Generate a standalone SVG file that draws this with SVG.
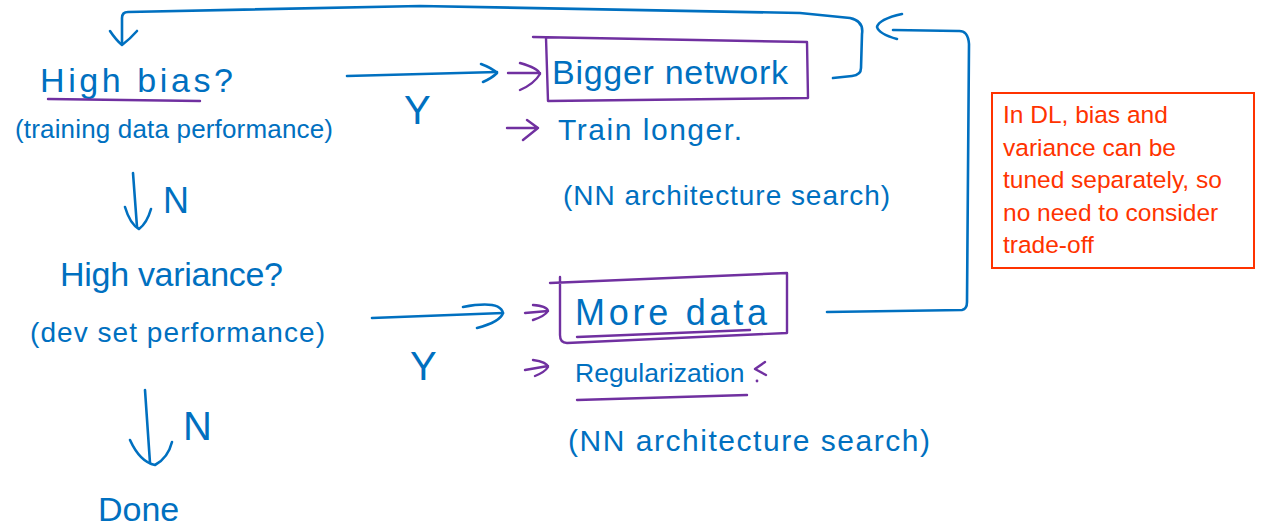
<svg xmlns="http://www.w3.org/2000/svg" width="1268" height="531" viewBox="0 0 1268 531">
<style>
.hw{font-family:"Liberation Sans","DejaVu Sans",sans-serif;fill:#0070C0;}
.bl{fill:none;stroke:#0070C0;stroke-width:2.6;stroke-linecap:round;stroke-linejoin:round;}
.pu{fill:none;stroke:#7030A0;stroke-width:2.4;stroke-linecap:round;stroke-linejoin:round;}
.note{font-family:"Liberation Sans","DejaVu Sans",sans-serif;font-size:24.5px;fill:#FF3300;}
</style>
<rect width="1268" height="531" fill="#FFFFFF"/>

<g id="connectors">
  <!-- feedback from Bigger network to High bias -->
  <path class="bl" d="M833,78 L852,76 Q861,75 861,68 L862,34 Q864,21 850,18 L800,13 L420,6 L128,12 Q122,12 122,18 L122,44"/>
  <path class="bl" d="M110,31 Q116,40 122,45 Q130,39 137,31"/>
  <!-- feedback from More data -->
  <path class="bl" d="M827,312 L962,310 Q967,309 967,302 L969,44 Q968,30 958,31 L893,30"/>
  <path class="bl" d="M902,14 Q879,19 877,27 Q879,34 897,39"/>
  <!-- Y arrow 1 -->
  <path class="bl" d="M347,76 L497,72"/>
  <path class="bl" d="M481,64 Q492,68 497,73 Q492,78 483,82"/>
  <!-- Y arrow 2 -->
  <path class="bl" d="M372,318 L503,313"/>
  <path class="bl" d="M463,307 Q500,300 503,313 Q500,322 477,328"/>
  <!-- N arrow 1 -->
  <path class="bl" d="M133,173 L137,227"/>
  <path class="bl" d="M125,207 Q130,224 139,229 Q147,223 151,209"/>
  <!-- N arrow 2 -->
  <path class="bl" d="M145,390 L150,463"/>
  <path class="bl" d="M130,440 Q140,462 155,465 Q168,458 172,442"/>
  <!-- purple pointers -->
  <path class="pu" d="M508,73 L540,73 M520,63 Q538,68 540,74 Q534,84 520,90"/>
  <path class="pu" d="M507,128 L538,128 M527,120 L538,128 L523,140"/>
  <path class="pu" d="M525,313 L548,311 M533,305 Q547,306 548,311 Q545,316 533,320"/>
  <path class="pu" d="M525,370 L548,366 M533,360 Q547,362 548,367 Q545,372 535,376"/>
  <path class="pu" d="M765,362 L755,369 L766,375"/>
  <circle cx="757" cy="381" r="1.4" fill="#7030A0"/>
</g>

<g id="high-bias">
  <text class="hw" x="40" y="92" font-size="34" textLength="193">High bias?</text>
  <path class="pu" d="M48,99 L200,101"/>
  <text class="hw" x="15" y="138" font-size="26" textLength="318">(training data performance)</text>
</g>

<g id="label-n1">
  <text class="hw" x="163" y="213" font-size="36">N</text>
</g>

<g id="high-variance">
  <text class="hw" x="60" y="286" font-size="34" textLength="223">High variance?</text>
  <text class="hw" x="30" y="342" font-size="28" textLength="295">(dev set performance)</text>
</g>

<g id="label-n2">
  <text class="hw" x="183" y="440" font-size="40">N</text>
</g>

<g id="done">
  <text class="hw" x="98" y="521" font-size="34">Done</text>
</g>

<g id="label-y1">
  <text class="hw" x="404" y="124" font-size="40">Y</text>
</g>

<g id="label-y2">
  <text class="hw" x="410" y="380" font-size="40">Y</text>
</g>

<g id="bigger-network">
  <path class="pu" d="M533,37 L807,42 L808,98 L548,101 L546,38"/>
  <text class="hw" x="552" y="84" font-size="34" textLength="236">Bigger network</text>
</g>

<g id="train-longer">
  <text class="hw" x="558" y="140" font-size="30" textLength="184">Train longer.</text>
</g>

<g id="nn-search-1">
  <text class="hw" x="563" y="205" font-size="28" textLength="327">(NN architecture search)</text>
</g>

<g id="more-data">
  <path class="pu" d="M550,283 L787,273 L787,333 L567,343 Q560,343 560,335 L560,277"/>
  <path class="pu" d="M577,337 L750,330"/>
  <text class="hw" x="575" y="325" font-size="36" textLength="192">More data</text>
</g>

<g id="regularization">
  <text class="hw" x="575" y="382" font-size="26.5">Regularization</text>
  <path class="pu" d="M577,400 L747,395"/>
</g>

<g id="nn-search-2">
  <text class="hw" x="568" y="451" font-size="30" textLength="362">(NN architecture search)</text>
</g>

<g id="note">
  <rect x="992" y="93" width="262" height="175" fill="none" stroke="#FF3300" stroke-width="2"/>
  <text class="note" x="1003" y="123">In DL, bias and</text>
  <text class="note" x="1003" y="156">variance can be</text>
  <text class="note" x="1003" y="188">tuned separately, so</text>
  <text class="note" x="1003" y="221">no need to consider</text>
  <text class="note" x="1003" y="253">trade-off</text>
</g>
</svg>
